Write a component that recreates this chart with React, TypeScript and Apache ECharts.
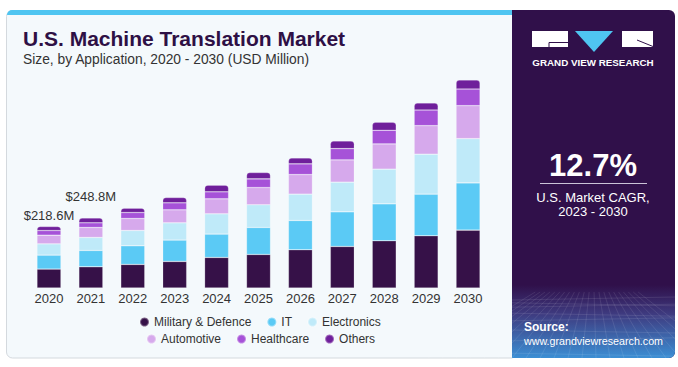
import React, { useEffect, useRef } from "react";
import * as echarts from "echarts";

const years = ["2020", "2021", "2022", "2023", "2024", "2025", "2026", "2027", "2028", "2029", "2030"];
const military = [67.3, 75.6, 83.8, 94.4, 108.6, 119.3, 136.0, 147.7, 167.9, 185.7, 205.9];
const it = [49.6, 57.9, 66.4, 76.0, 83.1, 95.9, 104.0, 123.2, 131.4, 148.0, 167.9];
const electronics = [40.0, 46.2, 54.3, 61.4, 72.1, 80.6, 93.7, 105.4, 123.2, 142.0, 157.3];
const automotive = [30.8, 35.5, 42.6, 46.2, 53.3, 61.4, 69.6, 79.2, 89.8, 101.5, 117.2];
const healthcare = [16.7, 16.7, 21.3, 24.9, 24.9, 30.9, 38.0, 40.1, 48.6, 55.7, 59.3];
const others = [14.2, 16.9, 15.6, 18.8, 23.8, 22.4, 21.3, 27.3, 28.4, 24.9, 32.0];
const totalLabels = ["$218.6M", "$248.8M"];
const labelDistances = [5, 15];

const seriesNames = ["Military & Defence", "IT", "Electronics", "Automotive", "Healthcare", "Others"];
const seriesColors = ["#361148", "#5bcaf5", "#bfeaf9", "#d6a9ec", "#a652d8", "#6f1f9b"];

const FONT = "'Liberation Sans', Arial, sans-serif";

export default function App() {
  const ref = useRef<HTMLDivElement>(null);
  useEffect(() => {
    if (!ref.current) return;
    const chart = echarts.init(ref.current, undefined, { renderer: "svg" });
    const values = [military, it, electronics, automotive, healthcare, others];

    const series: any[] = values.map((arr, si) => ({
      name: seriesNames[si],
      type: "bar",
      stack: "total",
      barWidth: 24,
      itemStyle: {
        color: seriesColors[si],
        borderColor: "rgba(255,255,255,0.35)",
        borderWidth: 0.6,
        borderRadius: si === 5 ? [3, 3, 0, 0] : 0,
      },
      data: arr.map((v, i) => {
        if (si === 5 && i < totalLabels.length) {
          return {
            value: v,
            label: {
              show: true,
              position: "top",
              distance: labelDistances[i],
              formatter: totalLabels[i],
              fontSize: 13,
              color: "#333",
              fontFamily: FONT,
            },
          };
        }
        return v;
      }),
    }));

    // decorative mesh lines in the right panel footer
    const mesh: any[] = [];
    for (let k = 0; k < 9; k++) {
      const y = 300 + k * k * 0.8 + k * 2;
      mesh.push({
        type: "line",
        shape: { x1: 512, y1: y, x2: 675, y2: y + (k % 2 ? 3 : -3) },
        style: { stroke: "rgba(255,255,255,0.12)", lineWidth: 0.8 },
        silent: true,
      });
    }
    for (let k = -6; k < 16; k++) {
      const xb = 512 + k * 14;
      mesh.push({
        type: "line",
        shape: { x1: 593 + (xb - 593) * 0.35, y1: 292, x2: xb, y2: 358 },
        style: { stroke: "rgba(255,255,255,0.12)", lineWidth: 0.8 },
        silent: true,
      });
    }

    const graphic: any[] = [
      {
        type: "rect",
        shape: { x: 6.5, y: 10.5, width: 506, height: 347.5, r: [6, 0, 0, 6] },
        style: { fill: "#f4f9fc", stroke: "#d4d9de", lineWidth: 1 },
        silent: true,
        z: -10,
      },
      {
        type: "rect",
        shape: { x: 7, y: 10, width: 506, height: 5, r: [5, 0, 0, 0] },
        style: { fill: "#4fc5f1" },
        silent: true,
        z: -9,
      },
      {
        type: "rect",
        shape: { x: 512, y: 10, width: 163, height: 348, r: [0, 6, 6, 0] },
        style: { fill: "#30104a" },
        silent: true,
        z: -9,
      },
      {
        type: "rect",
        shape: { x: 512, y: 285, width: 163, height: 73, r: [0, 0, 6, 0] },
        style: {
          fill: new echarts.graphic.LinearGradient(0, 0, 0, 1, [
            { offset: 0, color: "#30104a" },
            { offset: 0.4, color: "#3e3b80" },
            { offset: 1, color: "#3c8fd4" },
          ]),
        },
        silent: true,
        z: -8,
      },
      ...mesh.map((m) => ({ ...m, z: -7 })),
      // title
      {
        type: "text",
        left: 23,
        top: 28,
        style: {
          text: "U.S. Machine Translation Market",
          fontSize: 21,
          fontWeight: "bold",
          fill: "#2e1045",
          fontFamily: FONT,
        },
      },
      {
        type: "text",
        left: 23,
        top: 52,
        style: {
          text: "Size, by Application, 2020 - 2030 (USD Million)",
          fontSize: 13.8,
          fill: "#333333",
          fontFamily: FONT,
        },
      },
      // logo
      { type: "rect", shape: { x: 532, y: 31, width: 36, height: 16 }, style: { fill: "#ffffff" } },
      {
        type: "polyline",
        shape: { points: [[568, 42.5], [549, 42.5], [549, 47]] },
        style: { stroke: "#30104a", lineWidth: 1, fill: null },
      },
      {
        type: "polygon",
        shape: { points: [[575, 31], [613, 31], [594, 52]] },
        style: { fill: "#4fc5f1" },
      },
      { type: "rect", shape: { x: 622, y: 31, width: 31, height: 16 }, style: { fill: "#ffffff" } },
      {
        type: "polyline",
        shape: { points: [[637, 40], [653, 46.5]] },
        style: { stroke: "#30104a", lineWidth: 1, fill: null },
      },
      {
        type: "text",
        x: 593,
        y: 62,
        style: {
          text: "GRAND VIEW RESEARCH",
          fontSize: 9.8,
          fontWeight: "bold",
          fill: "#ffffff",
          fontFamily: FONT,
          align: "center",
          verticalAlign: "middle",
        },
      },
      // CAGR
      {
        type: "text",
        x: 593,
        y: 165,
        style: {
          text: "12.7%",
          fontSize: 31,
          fontWeight: "bold",
          fill: "#ffffff",
          fontFamily: FONT,
          align: "center",
          verticalAlign: "middle",
        },
      },
      {
        type: "line",
        shape: { x1: 540, y1: 183.5, x2: 647, y2: 183.5 },
        style: { stroke: "#cbc3d8", lineWidth: 1 },
      },
      {
        type: "text",
        x: 593,
        y: 197,
        style: {
          text: "U.S. Market CAGR,",
          fontSize: 13,
          fill: "#ffffff",
          fontFamily: FONT,
          align: "center",
          verticalAlign: "middle",
        },
      },
      {
        type: "text",
        x: 593,
        y: 211,
        style: {
          text: "2023 - 2030",
          fontSize: 13,
          fill: "#ffffff",
          fontFamily: FONT,
          align: "center",
          verticalAlign: "middle",
        },
      },
      // source
      {
        type: "text",
        x: 524,
        y: 327,
        style: {
          text: "Source:",
          fontSize: 12,
          fontWeight: "bold",
          fill: "#ffffff",
          fontFamily: FONT,
          verticalAlign: "middle",
        },
      },
      {
        type: "text",
        x: 524,
        y: 341,
        style: {
          text: "www.grandviewresearch.com",
          fontSize: 10.7,
          fill: "#ffffff",
          fontFamily: FONT,
          verticalAlign: "middle",
        },
      },
    ];

    const legendCommon = {
      icon: "circle",
      itemWidth: 9,
      itemHeight: 9,
      itemGap: 15,
      textStyle: { fontSize: 12, color: "#333", fontFamily: FONT, padding: [0, 0, 0, 0] },
      selectedMode: false,
    };

    chart.setOption({
      animation: false,
      grid: { left: 28, width: 461, top: 63, bottom: 79, containLabel: false },
      legend: [
        { ...legendCommon, data: seriesNames.slice(0, 3), left: 134, top: 311 },
        { ...legendCommon, data: seriesNames.slice(3), left: 141, top: 328 },
      ],
      xAxis: {
        type: "category",
        data: years,
        axisLine: { show: false },
        axisTick: { show: false },
        axisLabel: { fontSize: 13, color: "#333", fontFamily: FONT, margin: 4 },
      },
      yAxis: {
        type: "value",
        min: 0,
        max: 800,
        show: false,
        splitLine: { show: false },
      },
      series,
      graphic,
    });
    return () => chart.dispose();
  }, []);
  return (
    <div
      ref={ref}
      style={{ position: "fixed", left: 0, top: 0, width: 678, height: 367, background: "#ffffff" }}
    />
  );
}
